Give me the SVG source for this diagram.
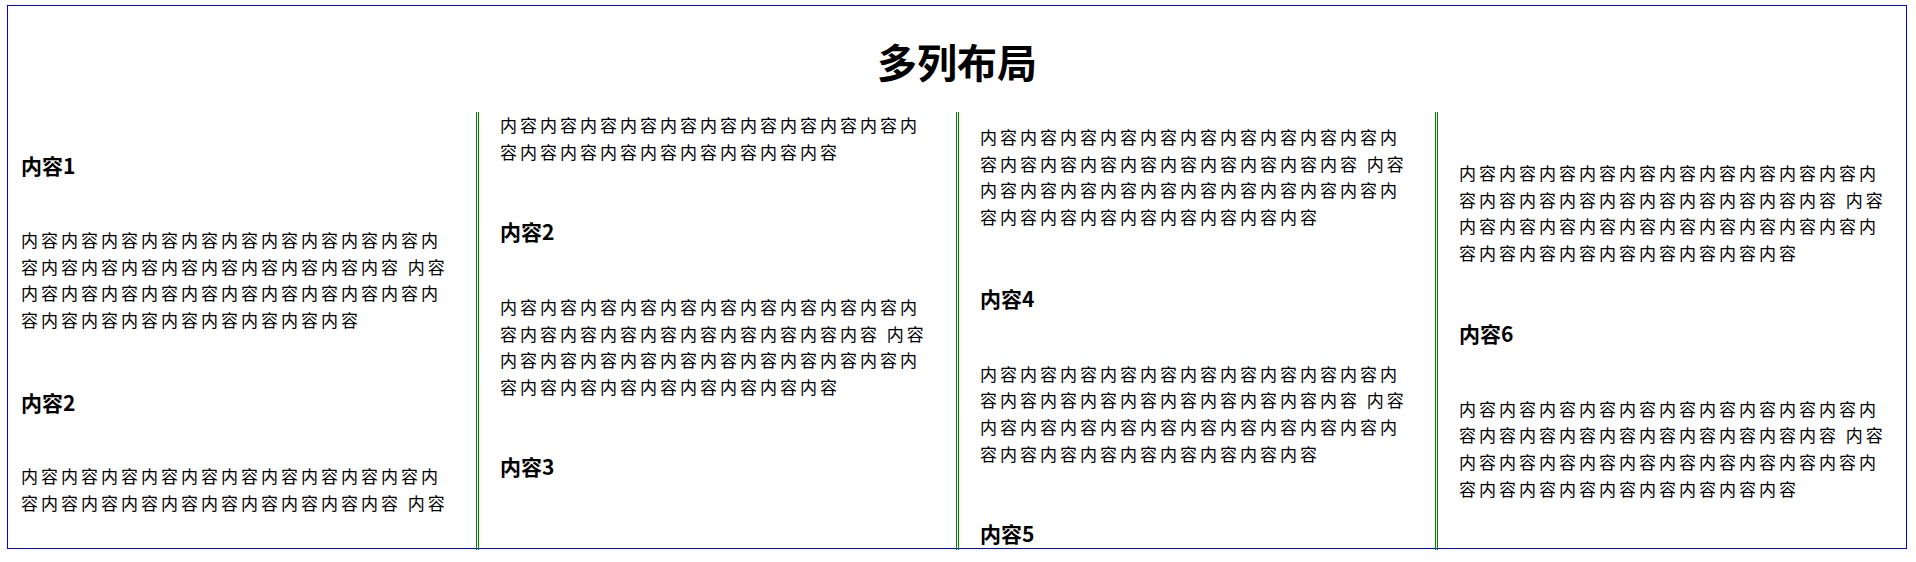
<svg xmlns="http://www.w3.org/2000/svg" width="1916" height="562" viewBox="0 0 1916 562">
<style>
  .t { font-family: "Noto Sans CJK SC", "Noto Sans", sans-serif; fill: #000; }
  .title { font-size: 40px; font-weight: bold; text-anchor: middle; }
  .h { font-size: 21px; font-weight: bold; }
  .p { font-size: 17px; letter-spacing: 3px; }
  .rule { stroke: #008000; stroke-width: 1; fill: none; }
</style>
<rect width="1916" height="562" fill="#fff"/>
<g id="frame">
  <rect x="7.5" y="5.5" width="1899" height="543" fill="none" stroke="#0000ff" stroke-width="1"/>
</g>
<g id="title">
  <text class="t title" x="957" y="78">多列布局</text>
</g>
<g id="rules">
  <line class="rule" x1="476.5" y1="112" x2="476.5" y2="550"/>
  <line class="rule" x1="478.5" y1="112" x2="478.5" y2="550"/>
  <line class="rule" x1="956.5" y1="112" x2="956.5" y2="550"/>
  <line class="rule" x1="958.5" y1="112" x2="958.5" y2="550"/>
  <line class="rule" x1="1435.5" y1="112" x2="1435.5" y2="550"/>
  <line class="rule" x1="1437.5" y1="112" x2="1437.5" y2="550"/>
</g>
<g id="section1">
  <text class="t h" x="21" y="174">内容1</text>
  <text class="t p" x="21" y="247">内容内容内容内容内容内容内容内容内容内容内</text>
  <text class="t p" x="21" y="273.7">容内容内容内容内容内容内容内容内容内容 内容</text>
  <text class="t p" x="21" y="300.3">内容内容内容内容内容内容内容内容内容内容内</text>
  <text class="t p" x="21" y="327">容内容内容内容内容内容内容内容内容</text>
</g>
<g id="section2">
  <text class="t h" x="21" y="410.5">内容2</text>
  <text class="t p" x="21" y="483">内容内容内容内容内容内容内容内容内容内容内</text>
  <text class="t p" x="21" y="509.7">容内容内容内容内容内容内容内容内容内容 内容</text>
  <text class="t p" x="500" y="132.3">内容内容内容内容内容内容内容内容内容内容内</text>
  <text class="t p" x="500" y="159">容内容内容内容内容内容内容内容内容</text>
  <text class="t h" x="500" y="240.3">内容2</text>
  <text class="t p" x="500" y="314">内容内容内容内容内容内容内容内容内容内容内</text>
  <text class="t p" x="500" y="340.7">容内容内容内容内容内容内容内容内容内容 内容</text>
  <text class="t p" x="500" y="367.3">内容内容内容内容内容内容内容内容内容内容内</text>
  <text class="t p" x="500" y="394">容内容内容内容内容内容内容内容内容</text>
</g>
<g id="section3">
  <text class="t h" x="500" y="475.3">内容3</text>
  <text class="t p" x="980" y="144">内容内容内容内容内容内容内容内容内容内容内</text>
  <text class="t p" x="980" y="170.7">容内容内容内容内容内容内容内容内容内容 内容</text>
  <text class="t p" x="980" y="197.3">内容内容内容内容内容内容内容内容内容内容内</text>
  <text class="t p" x="980" y="224">容内容内容内容内容内容内容内容内容</text>
</g>
<g id="section4">
  <text class="t h" x="980" y="307">内容4</text>
  <text class="t p" x="980" y="380.7">内容内容内容内容内容内容内容内容内容内容内</text>
  <text class="t p" x="980" y="407.3">容内容内容内容内容内容内容内容内容内容 内容</text>
  <text class="t p" x="980" y="434">内容内容内容内容内容内容内容内容内容内容内</text>
  <text class="t p" x="980" y="460.7">容内容内容内容内容内容内容内容内容</text>
</g>
<g id="section5">
  <text class="t h" x="980" y="542">内容5</text>
  <text class="t p" x="1459" y="180">内容内容内容内容内容内容内容内容内容内容内</text>
  <text class="t p" x="1459" y="206.7">容内容内容内容内容内容内容内容内容内容 内容</text>
  <text class="t p" x="1459" y="233.3">内容内容内容内容内容内容内容内容内容内容内</text>
  <text class="t p" x="1459" y="260">容内容内容内容内容内容内容内容内容</text>
</g>
<g id="section6">
  <text class="t h" x="1459" y="342">内容6</text>
  <text class="t p" x="1459" y="415.7">内容内容内容内容内容内容内容内容内容内容内</text>
  <text class="t p" x="1459" y="442.3">容内容内容内容内容内容内容内容内容内容 内容</text>
  <text class="t p" x="1459" y="469">内容内容内容内容内容内容内容内容内容内容内</text>
  <text class="t p" x="1459" y="495.7">容内容内容内容内容内容内容内容内容</text>
</g>
</svg>
